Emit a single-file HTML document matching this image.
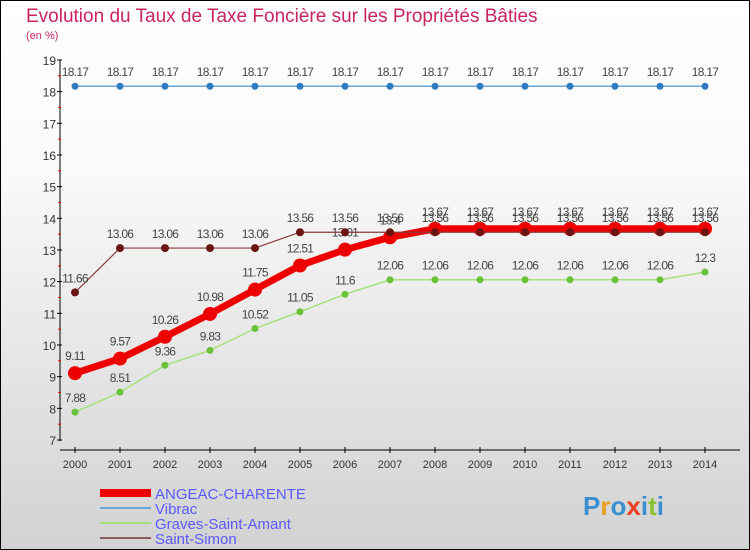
<!DOCTYPE html>
<html><head><meta charset="utf-8"><style>
body{margin:0}
#wrap{position:relative;width:750px;height:550px;box-sizing:border-box;border:1px solid #000;background:linear-gradient(#fff,#fafafa 30%,#d2d2d2);font-family:"Liberation Sans",sans-serif;overflow:hidden}
</style></head><body>
<div id="wrap">
<svg id="c" width="750" height="550" style="position:absolute;left:-1px;top:-1px">
<text x="26" y="22" font-size="19" fill="#c8245f">Evolution du Taux de Taxe Foncière sur les Propriétés Bâties</text>
<text x="26" y="39" font-size="11" fill="#c8245f">(en %)</text>
</svg>
</div>
<script>
const years=[2000,2001,2002,2003,2004,2005,2006,2007,2008,2009,2010,2011,2012,2013,2014];
const yTicks=[7,8,9,10,11,12,13,14,15,16,17,18,19];
const angeac=[9.11,9.57,10.26,10.98,11.75,12.51,13.01,13.4,13.67,13.67,13.67,13.67,13.67,13.67,13.67];
const vibrac=[18.17,18.17,18.17,18.17,18.17,18.17,18.17,18.17,18.17,18.17,18.17,18.17,18.17,18.17,18.17];
const graves=[7.88,8.51,9.36,9.83,10.52,11.05,11.6,12.06,12.06,12.06,12.06,12.06,12.06,12.06,12.3];
const simon=[11.66,13.06,13.06,13.06,13.06,13.56,13.56,13.56,13.56,13.56,13.56,13.56,13.56,13.56,13.56];
const names=["ANGEAC-CHARENTE","Vibrac","Graves-Saint-Amant","Saint-Simon"];
const NS="http://www.w3.org/2000/svg";
const svg=document.getElementById('c');
const X=i=>75+i*45;
const Y=v=>440-(v-7)*31.67;
function mk(t,a,p){const e=document.createElementNS(NS,t);for(const k in a)e.setAttribute(k,a[k]);(p||svg).appendChild(e);return e;}
const ax=mk('g',{});


mk('line',{x1:60,y1:60,x2:60,y2:441,stroke:'#000','stroke-width':1},ax);
mk('line',{x1:60,y1:450,x2:740,y2:450,stroke:'#000','stroke-width':1},ax);
yTicks.forEach(v=>{
  mk('line',{x1:57,x2:62,y1:Y(v),y2:Y(v),stroke:'#000'},ax);
  if(v<19)mk('line',{x1:58,x2:61,y1:Y(v+0.5),y2:Y(v+0.5),stroke:'#e00'},ax);
  const t=mk('text',{x:56,y:Y(v)+5,'font-size':12,fill:'#333','text-anchor':'end'},ax);t.textContent=v;
  
  
});
years.forEach((y,i)=>{
  mk('line',{x1:X(i),x2:X(i),y1:447,y2:453,stroke:'#000'},ax);
  const t=mk('text',{x:X(i),y:468,'font-size':11,fill:'#333','text-anchor':'middle'},ax);t.textContent=y;
  
  
});
function series(data,name,color,dot,w,r,lblDy){
  const g=mk('g',{});
  
  
  mk('polyline',{points:data.map((v,i)=>X(i)+','+Y(v)).join(' '),fill:'none',stroke:color,'stroke-width':w},g);
  data.forEach((v,i)=>{
    const c=mk('circle',{cx:X(i),cy:Y(v),r:r,fill:dot},g);
    
    
    const t=mk('text',{x:X(i),y:Y(v)+lblDy,'font-size':12,fill:'#444','text-anchor':'middle','letter-spacing':'-0.7'},g);t.textContent=v;
    
    
  });
}
series(vibrac,'series-vibrac','#6aa6d6','#2e7cbf',1.5,3.5,-10);
series(graves,'series-graves-saint-amant','#a6e07a','#6ac23a',1.5,3.5,-10);
series(angeac,'series-angeac-charente','#ee0000','#ee0000',7,7,-13);
series(simon,'series-saint-simon','#8b3a3a','#6b1414',1.2,4,-10);
const lg=mk('g',{});


const lc=['#ee0000','#6aa6d6','#a6e07a','#8b5a5a'],lw=[8,2,2,2];
names.forEach((n,i)=>{
  const y=493+i*15;
  mk('line',{x1:100,x2:151,y1:y,y2:y,stroke:lc[i],'stroke-width':lw[i]},lg);
  const t=mk('text',{x:155,y:y+6,'font-size':15,fill:'#5a5aff'},lg);t.textContent=n;
  
  
});
const p=mk('text',{x:583,y:515,'font-size':26,'font-weight':'bold'});


const lcol=['#3a8fd0','#e8a020','#3a8fd0','#e84020','#3a8fd0','#8ac030','#3a8fd0'];
'Proxiti'.split('').forEach((ch,i)=>{const s=mk('tspan',{fill:lcol[i]},p);s.textContent=ch;});
</script>
</body></html>
